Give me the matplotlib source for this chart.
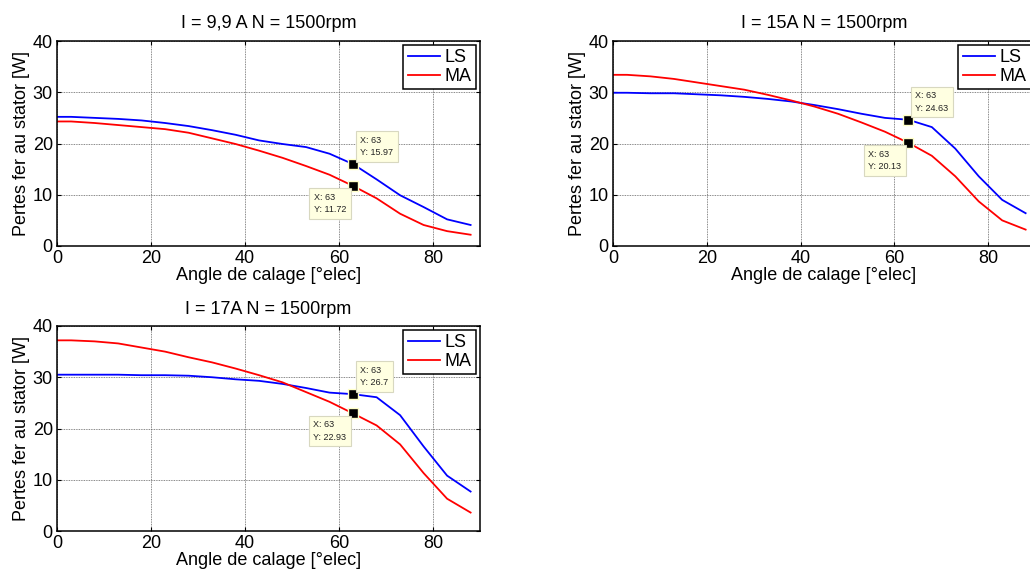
import matplotlib
matplotlib.use("Agg")
import matplotlib.pyplot as plt

plt.rcParams["font.family"] = ["Liberation Sans", "DejaVu Sans"]

# angle de calage [deg elec]
angle = [0, 3, 8, 13, 18, 23, 28, 33, 38, 43, 48, 53, 58, 63, 68, 73, 78, 83, 88]

# I = 9,9 A
ls_1 = [25.2, 25.2, 25.0, 24.8, 24.5, 24.0, 23.4, 22.6, 21.7, 20.6, 19.9, 19.3, 18.0,
        15.97, 13.0, 9.9, 7.6, 5.2, 4.1]
ma_1 = [24.3, 24.3, 24.0, 23.6, 23.2, 22.8, 22.1, 21.0, 19.9, 18.6, 17.2, 15.6, 13.9,
        11.72, 9.3, 6.3, 4.1, 2.9, 2.2]
# I = 15 A
ls_2 = [29.9, 29.9, 29.8, 29.8, 29.6, 29.4, 29.1, 28.7, 28.2, 27.5, 26.7, 25.8, 25.0,
        24.63, 23.2, 19.0, 13.6, 9.0, 6.4]
ma_2 = [33.4, 33.4, 33.1, 32.6, 31.9, 31.2, 30.5, 29.5, 28.4, 27.2, 25.8, 24.1, 22.3,
        20.13, 17.6, 13.6, 8.7, 5.0, 3.2]
# I = 17 A
ls_3 = [30.5, 30.5, 30.5, 30.5, 30.4, 30.4, 30.3, 30.0, 29.6, 29.3, 28.7, 27.9, 27.0,
        26.7, 26.1, 22.6, 16.5, 10.8, 7.7]
ma_3 = [37.2, 37.2, 37.0, 36.6, 35.8, 35.0, 33.9, 32.9, 31.7, 30.4, 29.0, 27.1, 25.2,
        22.93, 20.6, 16.9, 11.3, 6.3, 3.6]

titles = ["I = 9,9 A N = 1500rpm", "I = 15A N = 1500rpm", "I = 17A N = 1500rpm"]
tip_x = 63
tip_labels = [("15.97", "11.72"), ("24.63", "20.13"), ("26.7", "22.93")]

W, H = 1030, 570
# axes boxes in pixels: left, top, right, bottom (2nd panel runs off the right edge)
boxes = [(57, 41, 480, 246), (613, 41, 1035, 246), (57, 326, 480, 531)]

fig = plt.figure(figsize=(W / 100, H / 100), dpi=100)


def datatip(ax, y, txt, upper):
    ax.plot([tip_x], [y], "s", ms=6.5, mfc="black", mec="#ffffc8", mew=1.0, zorder=6)
    if upper:
        off, ha, va = (7, 7), "left", "bottom"
    else:
        off, ha, va = (-7, -7), "right", "top"
    ax.annotate(f"X: {tip_x}\nY: {txt}", (tip_x, y), xytext=off,
                textcoords="offset pixels", ha=ha, va=va, fontsize=6.5, color="#222222",
                multialignment="left", linespacing=1.5, zorder=7,
                bbox=dict(boxstyle="square,pad=0.5", fc="#ffffe1", ec="#d8d8c0", lw=0.8))


series = [(ls_1, ma_1), (ls_2, ma_2), (ls_3, ma_3)]
for i, ((ls, ma), (l, t, r, b)) in enumerate(zip(series, boxes)):
    ax = fig.add_axes([l / W, 1 - b / H, (r - l) / W, (b - t) / H])
    ax.plot(angle, ls, color="#0000ff", lw=1.3, label="LS")
    ax.plot(angle, ma, color="#ff0000", lw=1.3, label="MA")
    ax.set_xlim(0, 90)
    ax.set_ylim(0, 40)
    ax.set_xticks([0, 20, 40, 60, 80])
    ax.set_yticks([0, 10, 20, 30, 40])
    ax.grid(True, color="#606060", lw=0.6, ls=(0, (1, 1)))
    ax.tick_params(direction="in", length=3, labelsize=13, top=True, right=True)
    ax.tick_params(axis="x", pad=3)
    ax.tick_params(axis="y", pad=3)
    for s in ax.spines.values():
        s.set_linewidth(1.1)
    ax.set_title(titles[i], fontsize=13, pad=9)
    ax.set_xlabel("Angle de calage [°elec]", fontsize=13, labelpad=0)
    ax.set_ylabel("Pertes fer au stator [W]", fontsize=13, labelpad=2)
    leg = ax.legend(loc="upper right", fontsize=13, fancybox=False, framealpha=1,
                    edgecolor="black", borderpad=0.25, handlelength=1.8,
                    handletextpad=0.25, labelspacing=0.1, borderaxespad=0.2)
    leg.get_frame().set_linewidth(1.1)
    datatip(ax, ls[angle.index(tip_x)], tip_labels[i][0], True)
    datatip(ax, ma[angle.index(tip_x)], tip_labels[i][1], False)

fig.savefig("out.png", dpi=100)
